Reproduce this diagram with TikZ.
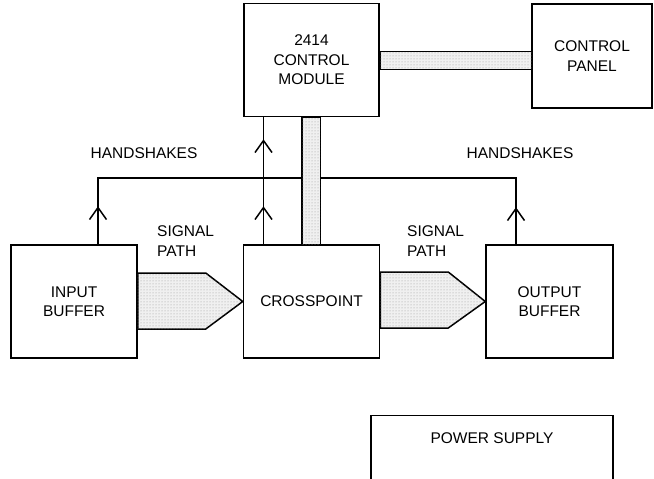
\documentclass[tikz,border=0pt]{standalone}
\usepackage{fontspec}
\setmainfont{Liberation Sans}
\usetikzlibrary{arrows.meta, positioning, calc, patterns}

\begin{document}
\begin{tikzpicture}[
    x=1pt, y=-1pt,
    unit/.style={draw, line width=1.5pt, align=center, inner sep=0pt,
                 font=\fontsize{15.5}{19.5}\selectfont},
    bus/.style={draw, line width=1.5pt, fill=black!6,
                postaction={pattern=dots, pattern color=black!40}},
    hs/.style={line width=1.5pt},
    up/.style={hs, -{Straight Barb[length=12pt, width=17pt]}},
    lbl/.style={font=\fontsize{15.5}{19.5}\selectfont, align=left, inner sep=0pt}
  ]
    \clip (0,0) rectangle (654,479);

    % signal chain
    \node[unit, minimum width=126, minimum height=113] (input) at (74,301.5)
      {INPUT\\BUFFER};
    \node[unit, minimum width=136, minimum height=113, right=105pt of input] (cross)
      {CROSSPOINT};
    \node[unit, minimum width=127, minimum height=113, right=105pt of cross] (output)
      {OUTPUT\\BUFFER};

    % control
    \node[unit, minimum width=135, minimum height=113, above=127pt of cross] (ctrl)
      {2414\\CONTROL\\MODULE};
    \node[unit, minimum width=120, minimum height=104] (panel) at (592,56)
      {CONTROL\\PANEL};

    % power supply, runs off the page
    \node[unit, minimum width=242, minimum height=90,
          below=56pt of output.south east, anchor=north east,
          label={[lbl, below=18pt]north:POWER SUPPLY}] (power) {};

    % handshakes
    \coordinate (hsbar) at (0,178);
    \coordinate (inhs) at ($(input.north)+(24,0)$);
    \coordinate (ouths) at ($(output.north)+(-33.5,0)$);
    \coordinate (crhs) at ($(cross.north)+(-48,0)$);
    \draw[hs] (inhs) -- (inhs |- hsbar) -- (ouths |- hsbar) -- (ouths);
    \draw[hs] (crhs) -- (ctrl.south -| crhs);
    \draw[up] (inhs) -- ++(0,-38);
    \draw[up] (ouths) -- ++(0,-37);
    \draw[up] (crhs) -- ++(0,-38);
    \draw[up] (crhs) -- ++(0,-105);

    % buses
    \draw[bus] ($(ctrl.south)+(-9.5,0)$) rectangle ($(cross.north)+(9,0)$);
    \draw[bus] ($(ctrl.east)+(0,-8.5)$) rectangle ($(panel.west |- ctrl.east)+(0,9.5)$);
    \draw[bus] ($(input.east)+(0,-28.5)$) -- ++(68,0) -- (cross.west)
      -- ($(input.east)+(68,27.5)$) -- ($(input.east)+(0,27.5)$) -- cycle;
    \draw[bus] ($(cross.east)+(0,-29.5)$) -- ++(68,0) -- (output.west)
      -- ($(cross.east)+(68,26.5)$) -- ($(cross.east)+(0,26.5)$) -- cycle;

    % labels
    \node[lbl] (hsleft) at (144,153) {HANDSHAKES};
    \node[lbl] (hsright) at (520,153) {HANDSHAKES};
    \node[lbl, anchor=west] (sigin) at (157,241) {SIGNAL\\PATH};
    \node[lbl, anchor=west] (sigout) at (407,241) {SIGNAL\\PATH};
\end{tikzpicture}
\end{document}
